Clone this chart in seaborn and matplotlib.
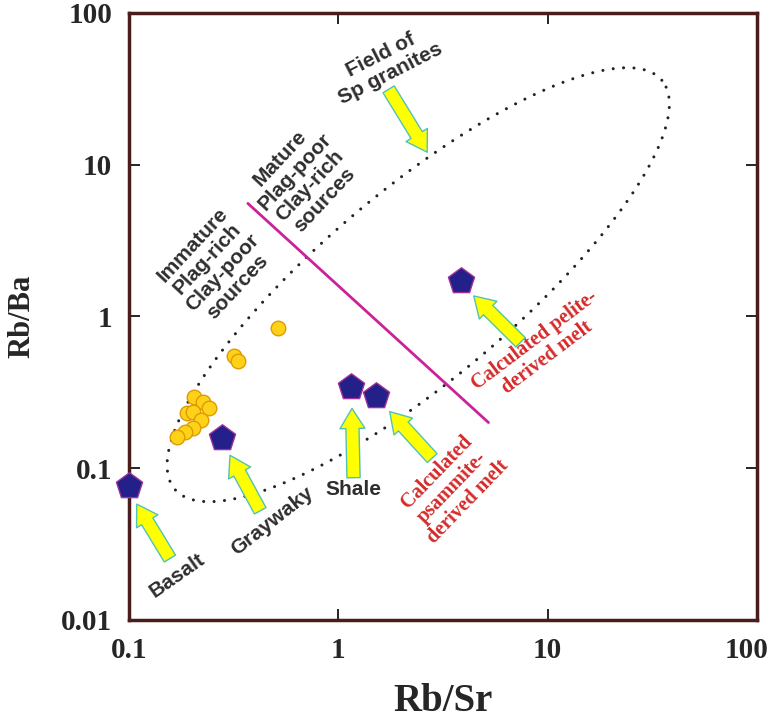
import numpy as np
import pandas as pd
import matplotlib
matplotlib.use('Agg')
import matplotlib.pyplot as plt
import matplotlib.transforms as mtransforms
import seaborn as sns

# ---------------------------------------------------------------
# data (Rb/Sr vs Rb/Ba, both log)
# ---------------------------------------------------------------
circle_rbsr = [0.516, 0.316, 0.333, 0.205, 0.227, 0.241, 0.189, 0.203, 0.220, 0.203, 0.185, 0.170]
circle_rbba = [0.836, 0.548, 0.506, 0.296, 0.274, 0.250, 0.230, 0.233, 0.208, 0.185, 0.173, 0.160]

# reference rocks / calculated melts (pentagons)
pent_rbsr = [0.10, 0.279, 1.15, 1.51, 3.86]
pent_rbba = [0.076, 0.158, 0.344, 0.300, 1.71]

# magenta divider between immature and mature sources
divider_rbsr = [0.37, 5.22]
divider_rbba = [5.56, 0.20]

# arrows: tail -> tip
arrow_tail_x = [0.157, 0.424, 1.183, 2.81, 7.43, 1.74]
arrow_tail_y = [0.0254, 0.0524, 0.0866, 0.1167, 0.676, 31.4]
arrow_tip_x = [0.109, 0.304, 1.163, 1.76, 4.44, 2.66]
arrow_tip_y = [0.058, 0.1217, 0.248, 0.236, 1.366, 12.1]

# Sp granite field (ellipse in log space)
field_center = (2.41, 1.62)
field_axes_px = (318, 95)
field_angle = 40

xticks = [0.1, 1, 10, 100]
yticks = [0.01, 0.1, 1, 10, 100]

sns.set_theme(style='white')
plt.rcParams['font.family'] = ['Liberation Sans', 'DejaVu Sans']

fig = plt.figure(figsize=(7.72, 7.22), dpi=100)
ax = fig.add_axes([0.167, 0.1413, 0.8135, 0.8407])
ax.set_xscale('log')
ax.set_yscale('log')
ax.set_xlim(0.1, 100)
ax.set_ylim(0.01, 100)

# dotted granite field
W = fig.get_figwidth() * fig.dpi * 0.8135 / 3.0   # px per decade
H = fig.get_figheight() * fig.dpi * 0.8407 / 4.0
t = np.linspace(0, 2 * np.pi, 500)
th = np.deg2rad(field_angle)
a, b = field_axes_px
du = a * np.cos(t) * np.cos(th) - b * np.sin(t) * np.sin(th)
dv = a * np.cos(t) * np.sin(th) + b * np.sin(t) * np.cos(th)
ex = 10 ** (np.log10(field_center[0]) + du / W)
ey = 10 ** (np.log10(field_center[1]) + dv / H)
ax.plot(ex, ey, color='#222222', lw=2.2, linestyle=(0, (0.01, 3.4)),
        dash_capstyle='round', zorder=2)

ax.plot(divider_rbsr, divider_rbba, color='#CC2299', lw=2, zorder=2)

for x0, y0, x1, y1 in zip(arrow_tail_x, arrow_tail_y, arrow_tip_x, arrow_tip_y):
    ax.annotate('', xy=(x1, y1), xytext=(x0, y0),
                arrowprops=dict(arrowstyle='simple,head_length=1.45,head_width=1.8,tail_width=0.95',
                                mutation_scale=10, fc='#FFFF00', ec='#4FC3B8', lw=1,
                                shrinkA=0, shrinkB=0), zorder=3)

circles = pd.DataFrame({'Rb/Sr': circle_rbsr, 'Rb/Ba': circle_rbba})
pents = pd.DataFrame({'Rb/Sr': pent_rbsr, 'Rb/Ba': pent_rbba})
sns.scatterplot(data=circles, x='Rb/Sr', y='Rb/Ba', ax=ax, marker='o', s=110,
                color='#FFD21A', edgecolor='#E09A00', linewidth=1, zorder=4)
sns.scatterplot(data=pents, x='Rb/Sr', y='Rb/Ba', ax=ax, marker='p', s=390,
                color='#23208A', edgecolor='#A0309A', linewidth=1, zorder=4, clip_on=False)

# labels
gray = '#2E2E2E'
red = '#D42A2A'
sans = dict(fontsize=15, fontweight='bold', color=gray, ha='center', va='center',
            family=['Liberation Sans', 'DejaVu Sans'])
serif = dict(fontsize=14.5, fontweight='bold', color=red, ha='center', va='center',
             family=['Liberation Serif', 'DejaVu Serif'], linespacing=1.1)
ax.text(0.171, 0.0197, 'Basalt', rotation=35, **sans)
ax.text(0.483, 0.045, 'Graywaky', rotation=38, **sans)
ax.text(1.18, 0.0727, 'Shale', rotation=0, **sans)
ax.text(0.258, 2.15, 'Immature\nPlag-rich\nClay-poor\nsources', rotation=47, linespacing=1.1, **sans)
ax.text(0.673, 8.1, 'Mature\nPlag-poor\nClay-rich\nsources', rotation=47, linespacing=1.1, **sans)
ax.text(1.68, 45.7, 'Field of\nSp granites', rotation=27, linespacing=1.1, **sans)
ax.text(3.5, 0.075, 'Calculated\npsammite-\nderived melt', rotation=46, **serif)
ax.text(9.27, 0.608, 'Calculated pelite-\nderived melt', rotation=37, **serif)

# axes styling
for s in ax.spines.values():
    s.set_color('#4B1C1C')
    s.set_linewidth(2.5)
ax.set_xticks(xticks)
ax.set_yticks(yticks)
ax.set_xticklabels(['0.1', '1', '10', '100'])
ax.set_yticklabels(['0.01', '0.1', '1', '10', '100'])
ax.minorticks_off()
ax.tick_params(which='major', direction='in', length=8, width=1.2, color='black',
               top=True, right=True, bottom=True, left=True, pad=12)
for lab in ax.get_xticklabels() + ax.get_yticklabels():
    lab.set_family(['Liberation Serif', 'DejaVu Serif'])
    lab.set_fontweight('bold')
    lab.set_fontsize(21)
# nudge the last x label so it stays inside the figure, as in the reference
last = ax.get_xticklabels()[-1]
last.set_transform(last.get_transform() +
                   mtransforms.ScaledTranslation(-10 / 100, 0, fig.dpi_scale_trans))
ax.set_xlabel('Rb/Sr', fontsize=28, fontweight='bold', family=['Liberation Serif'], labelpad=14)
ax.set_ylabel('Rb/Ba', fontsize=22, fontweight='bold', family=['Liberation Serif'], labelpad=18)

fig.savefig('out.png', dpi=100)
